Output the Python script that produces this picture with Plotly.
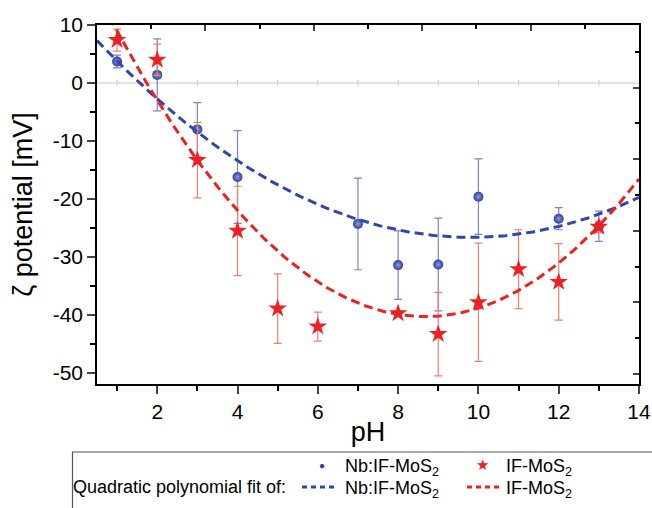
import numpy as np
import plotly.graph_objects as go

# ---------------- data ----------------
ph_nb = [1, 2, 3, 4, 7, 8, 9, 10, 12, 13]
zeta_nb = [3.7, 1.4, -8.0, -16.2, -24.3, -31.4, -31.3, -19.6, -23.4, -24.7]
err_nb = [1.1, 6.2, 4.6, 8.0, 7.9, 5.9, 8.0, 6.5, 1.9, 2.6]

ph_if = [1, 2, 3, 4, 5, 6, 8, 9, 10, 11, 12, 13]
zeta_if = [7.4, 4.0, -13.3, -25.5, -38.9, -42.0, -39.7, -43.3, -37.8, -32.1, -34.3, -24.8]
err_if = [1.9, 2.7, 6.5, 7.7, 6.0, 2.5, 0.4, 7.2, 10.2, 6.8, 6.6, 1.0]

x_ticks = [2, 4, 6, 8, 10, 12, 14]
y_ticks = [-50, -40, -30, -20, -10, 0, 10]
y_tick_labels = ["-50", "-40", "-30", "-20", "-10", "0", "10"]

BLUE = "#2d3f9c"
BLUE_ERR = "#7a84c8"
BLUE_FIT = "#2f47a8"
RED = "#ee2024"
RED_ERR = "#f07f6c"
RED_FIT = "#ea2222"
FONT = "Arial, Liberation Sans, sans-serif"

# quadratic polynomial fits (instrumental weighting, 1/sigma)
xf = np.linspace(0.5, 14, 200)
c_nb = np.polyfit(ph_nb, zeta_nb, 2, w=1.0 / np.array(err_nb))
c_if = np.polyfit(ph_if, zeta_if, 2, w=1.0 / np.array(err_if))

fig = go.Figure()

fig.add_trace(go.Scatter(
    x=ph_nb, y=zeta_nb, mode="markers",
    error_y=dict(type="data", array=err_nb, color=BLUE_ERR, thickness=1.2, width=4),
    marker=dict(size=10, color=BLUE, gradient=dict(type="radial", color="#8f9ae0")),
    showlegend=False))
fig.add_trace(go.Scatter(
    x=ph_if, y=zeta_if, mode="markers",
    error_y=dict(type="data", array=err_if, color=RED_ERR, thickness=1.2, width=4),
    marker=dict(size=14, color=RED, symbol="star"),
    showlegend=False))
fig.add_trace(go.Scatter(
    x=xf, y=np.polyval(c_nb, xf), mode="lines",
    line=dict(color=BLUE_FIT, width=3, dash="9px,5px"), showlegend=False))
fig.add_trace(go.Scatter(
    x=xf, y=np.polyval(c_if, xf), mode="lines",
    line=dict(color=RED_FIT, width=3, dash="9px,5px"), showlegend=False))

# grey zero line with small ticks
fig.add_shape(type="line", xref="x", yref="y", x0=0.5, x1=14, y0=0, y1=0,
              line=dict(color="#c8c8c8", width=1.2), layer="below")
for t in range(1, 14):
    fig.add_shape(type="line", xref="x", yref="y", x0=t, x1=t, y0=-0.5, y1=0.5,
                  line=dict(color="#c8c8c8", width=1), layer="below")

fig.update_layout(
    width=652, height=508,
    margin=dict(l=97, r=13, t=25, b=124, autoexpand=False),
    paper_bgcolor="white", plot_bgcolor="white",
    font=dict(family=FONT, size=21, color="black"),
    xaxis=dict(range=[0.5, 14], tickvals=x_ticks, ticks="outside", ticklen=8, tickwidth=1.5,
               showline=True, linecolor="black", linewidth=1.5, showgrid=False, zeroline=False,
               minor=dict(dtick=1, tick0=1, ticks="outside", ticklen=5, tickwidth=1.5, tickcolor="black"),
               tickfont=dict(size=21), automargin=False,
               title=dict(text="pH", font=dict(size=27), standoff=0)),
    yaxis=dict(range=[-51.9, 10], tickvals=y_ticks, ticktext=y_tick_labels, ticks="outside",
               ticklen=8, tickwidth=1.5,
               showline=True, linecolor="black", linewidth=1.5, showgrid=False, zeroline=False,
               minor=dict(dtick=5, tick0=-45, ticks="outside", ticklen=5, tickwidth=1.5, tickcolor="black"),
               tickfont=dict(size=21), automargin=False,
               title=dict(text="ζ potential [mV]", font=dict(size=27), standoff=12)),
    xaxis2=dict(overlaying="x", side="top", anchor="y", range=[0, 10], dtick=2, tick0=0,
                ticks="inside", ticklen=6, tickwidth=1.5, showticklabels=False, automargin=False,
                showline=True, linecolor="black", linewidth=1.5, showgrid=False, zeroline=False,
                minor=dict(dtick=1, ticks="inside", ticklen=4, tickwidth=1.5, tickcolor="black")),
    yaxis2=dict(overlaying="y", side="right", anchor="x", range=[-1.275, 8.745], dtick=2, tick0=1,
                ticks="inside", ticklen=6, tickwidth=1.5, showticklabels=False, automargin=False,
                showline=True, linecolor="black", linewidth=1.5, showgrid=False, zeroline=False,
                minor=dict(dtick=1, tick0=0, ticks="inside", ticklen=4, tickwidth=1.5, tickcolor="black")),
)
# dummy trace to activate the secondary axes
fig.add_trace(go.Scatter(x=[None], y=[None], xaxis="x2", yaxis="y2", showlegend=False, hoverinfo="skip"))

# ---------- custom legend box ----------
def px_x(p):
    return (p - 97) / 542.0

def px_y(p):
    return (384 - p) / 359.0

fig.add_shape(type="rect", xref="paper", yref="paper",
              x0=px_x(72.5), x1=px_x(700), y0=px_y(452), y1=px_y(560),
              line=dict(color="#555555", width=1.2), fillcolor="rgba(0,0,0,0)")
lf = dict(family=FONT, size=18, color="black")
fig.add_annotation(xref="paper", yref="paper", x=px_x(322), y=px_y(465), text="●", showarrow=False,
                   font=dict(family=FONT, size=10, color=BLUE), xanchor="center", yanchor="middle")
fig.add_annotation(xref="paper", yref="paper", x=px_x(482), y=px_y(465), text="★", showarrow=False,
                   font=dict(family="DejaVu Sans", size=15, color=RED), xanchor="center", yanchor="middle")
fig.add_annotation(xref="paper", yref="paper", x=px_x(343), y=px_y(467), text="Nb:IF-MoS<sub>2</sub>",
                   showarrow=False, font=lf, xanchor="left", yanchor="middle")
fig.add_annotation(xref="paper", yref="paper", x=px_x(504), y=px_y(467), text="IF-MoS<sub>2</sub>",
                   showarrow=False, font=lf, xanchor="left", yanchor="middle")
fig.add_annotation(xref="paper", yref="paper", x=px_x(71), y=px_y(487), text="Quadratic polynomial fit of:",
                   showarrow=False, font=lf, xanchor="left", yanchor="middle")
fig.add_annotation(xref="paper", yref="paper", x=px_x(343), y=px_y(489), text="Nb:IF-MoS<sub>2</sub>",
                   showarrow=False, font=lf, xanchor="left", yanchor="middle")
fig.add_annotation(xref="paper", yref="paper", x=px_x(504), y=px_y(489), text="IF-MoS<sub>2</sub>",
                   showarrow=False, font=lf, xanchor="left", yanchor="middle")
fig.add_shape(type="line", xref="paper", yref="paper", x0=px_x(302), x1=px_x(338), y0=px_y(487), y1=px_y(487),
              line=dict(color=BLUE_FIT, width=3, dash="5px,4px"))
fig.add_shape(type="line", xref="paper", yref="paper", x0=px_x(467), x1=px_x(500), y0=px_y(487), y1=px_y(487),
              line=dict(color=RED_FIT, width=3, dash="5px,4px"))

fig.write_html("out.html", config={"displayModeBar": False},
               post_script="document.body.style.margin='0px';document.body.style.overflow='hidden';")
